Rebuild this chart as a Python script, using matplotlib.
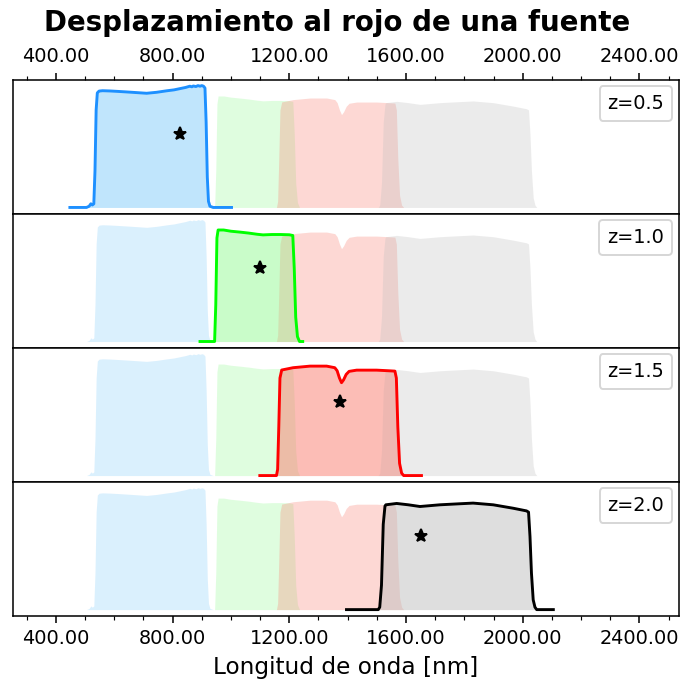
import matplotlib
matplotlib.use('Agg')
import matplotlib.pyplot as plt
from matplotlib.lines import Line2D
from matplotlib.ticker import MultipleLocator, FormatStrFormatter

# curvas de transmision de los filtros
blue_wl = [448, 505, 514, 520, 525, 530, 534, 538, 542, 548, 560, 585, 615, 642,
           680, 711, 745, 779, 805, 825, 845, 859, 866, 871, 880, 887, 894, 900,
           906, 911, 915, 919, 923, 928, 939, 1002]
blue_tr = [0.0, 0.0, 0.01, 0.03, 0.02, 0.03, 0.3, 0.8, 0.94, 0.955, 0.958, 0.956,
           0.952, 0.948, 0.942, 0.937, 0.945, 0.957, 0.965, 0.975, 0.985, 0.995,
           0.99, 0.997, 0.992, 1.0, 0.995, 1.0, 0.995, 0.98, 0.7, 0.25, 0.05,
           0.01, 0.0, 0.0]

green_wl = [894, 944, 948, 952, 956, 975, 1000, 1030, 1060, 1090, 1110, 1140,
            1170, 1200, 1212, 1217, 1222, 1228, 1235, 1246]
green_tr = [0.0, 0.0, 0.3, 0.85, 0.915, 0.915, 0.905, 0.898, 0.89, 0.88, 0.875,
            0.878, 0.878, 0.876, 0.87, 0.6, 0.2, 0.04, 0.0, 0.0]

red_wl = [1099, 1156, 1160, 1164, 1168, 1174, 1213, 1271, 1328, 1356, 1364, 1372,
          1379, 1386, 1395, 1405, 1431, 1499, 1540, 1562, 1567, 1572, 1578, 1585,
          1592, 1653]
red_tr = [0.0, 0.0, 0.05, 0.4, 0.8, 0.866, 0.885, 0.898, 0.898, 0.885, 0.86, 0.8,
          0.762, 0.785, 0.83, 0.855, 0.865, 0.865, 0.86, 0.857, 0.8, 0.4, 0.1,
          0.02, 0.0, 0.0]

grey_wl = [1396, 1505, 1510, 1516, 1522, 1528, 1531, 1568, 1608, 1648, 1716, 1780,
           1830, 1899, 1967, 2013, 2020, 2025, 2030, 2036, 2042, 2048, 2105]
grey_tr = [0.0, 0.0, 0.02, 0.2, 0.7, 0.85, 0.86, 0.871, 0.86, 0.846, 0.86, 0.868,
           0.874, 0.86, 0.832, 0.81, 0.8, 0.6, 0.3, 0.08, 0.02, 0.0, 0.0]

filters_wl = [blue_wl, green_wl, red_wl, grey_wl]
filters_tr = [blue_tr, green_tr, red_tr, grey_tr]
line_colors = ['dodgerblue', 'lime', 'red', 'black']
fill_colors = ['lightskyblue', 'palegreen', 'salmon', 'silver']

# fuente: longitud de onda en reposo y desplazamientos
rest_wl = 550.0
star_y = 0.6
redshifts = [0.5, 1.0, 1.5, 2.0]

DPI = 139
fig, axes = plt.subplots(4, 1, sharex=True, figsize=(686 / DPI, 684 / DPI), dpi=DPI)
fig.subplots_adjust(left=12.7 / 686, right=678.5 / 686,
                    top=1 - 79.5 / 684, bottom=1 - 615.7 / 684, hspace=0)

for i, (ax, z) in enumerate(zip(axes, redshifts)):
    # todos los filtros en claro
    for wl, tr, fc in zip(filters_wl, filters_tr, fill_colors):
        ax.fill_between(wl, tr, color=fc, alpha=0.3, lw=0)
    # filtro donde cae la fuente
    ax.fill_between(filters_wl[i], filters_tr[i], color=fill_colors[i], alpha=0.3, lw=0)
    ax.plot(filters_wl[i], filters_tr[i], color=line_colors[i], lw=1.5)
    ax.plot(rest_wl * (1 + z), star_y, '*', color='black', ms=7)

    ax.set_ylim(-0.05, 1.05)
    ax.set_yticks([])
    ax.tick_params(axis='x', which='both', top=False, bottom=False,
                   labeltop=False, labelbottom=False)
    ax.legend(handles=[Line2D([], [], ls='none', label=f'z={z}')],
              loc='upper right', handlelength=0, handletextpad=0,
              borderaxespad=0.35)

axes[0].set_xlim(252, 2534)
axes[0].xaxis.set_major_locator(MultipleLocator(400))
axes[0].xaxis.set_minor_locator(MultipleLocator(100))
axes[0].xaxis.set_major_formatter(FormatStrFormatter('%.2f'))
axes[0].tick_params(axis='x', which='both', top=True, labeltop=True)
axes[-1].tick_params(axis='x', which='both', bottom=True, labelbottom=True)
axes[-1].set_xlabel('Longitud de onda [nm]', fontsize=12)

fig.text(0.491, 1 - 30.7 / 684, 'Desplazamiento al rojo de una fuente',
         fontsize=14.3, fontweight='bold', ha='center', va='baseline')

fig.savefig('out.png', dpi=DPI)
